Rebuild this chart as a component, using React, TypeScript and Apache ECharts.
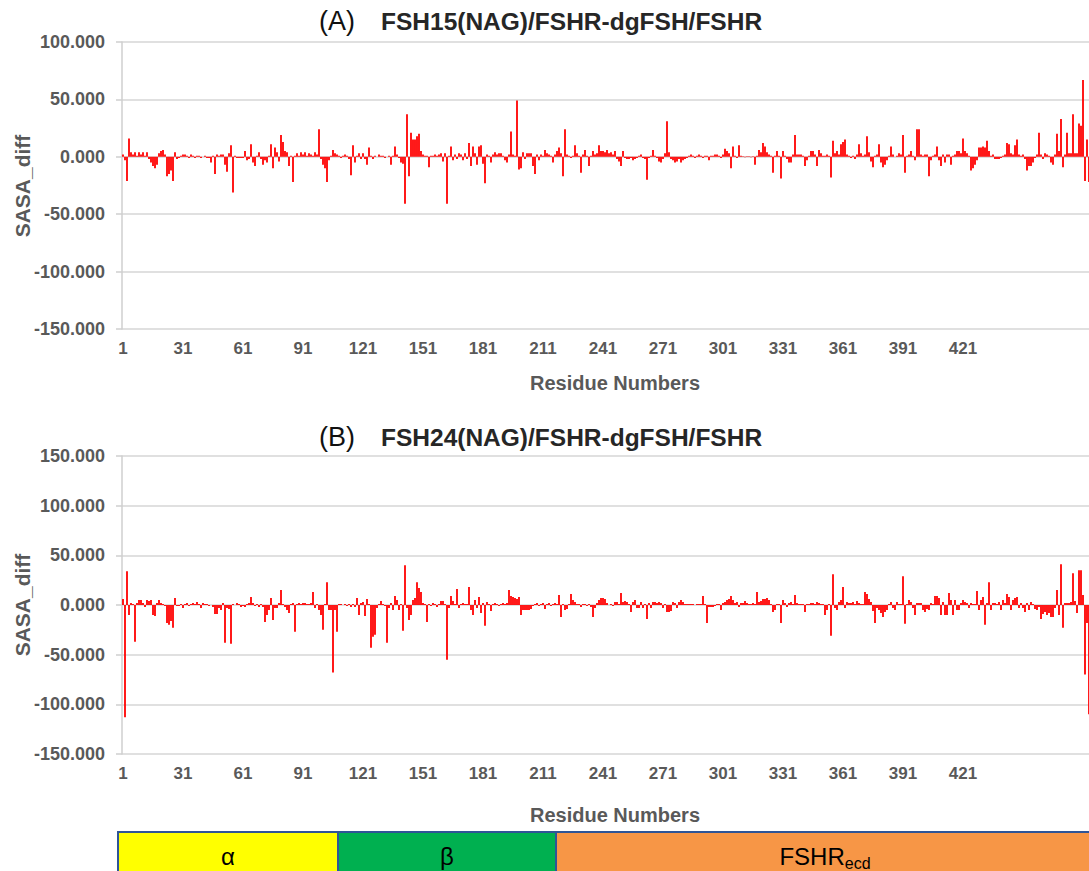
import React, { useEffect, useRef } from "react";
import * as echarts from "echarts";

// Residue numbers (categories)
const RESIDUES: string[] = Array.from({ length: 484 }, (_, i) => String(i + 1));
// Last residue index that carries a tick label (residue 421)
const LAST_LABEL_INDEX = 420;
const LABEL_STEP = 30;

// (A) FSH15(NAG)/FSHR-dgFSH/FSHR  SASA differences
const SASA_A: number[] = [
  2, -3, -21, 16, 4, 2, 4, 1, 4, 2, 4, 1, 4, -2, -5, -8, -10, -7, 3, 5,
  6, 2, -17, -15, -12, -21, 4, -2, -1, 1, 2, 2, 1, -1, 2, 1, -1, 1, 1, -1,
  0, 1, -1, -1, -5, 1, -15, 2, 1, 2, 2, -7, -13, 3, 10, -31, 1, -1, -1, -1,
  -1, 5, -3, -2, 11, -5, -8, 1, 4, -2, -7, -3, -5, 1, 11, -10, 8, 4, -4, 19,
  13, 5, 4, -8, 1, -22, 1, 3, 1, 4, 2, 4, 1, 3, 2, 1, 4, 2, 24, -2,
  -7, -10, -22, -3, 1, 6, 3, 2, 1, -1, 1, 2, 1, -2, -16, 10, -5, 1, 3, -2,
  3, -2, -7, 8, 1, -2, 1, 0, 2, 1, 1, -1, 0, 1, -7, 1, 9, 2, -1, -5,
  -6, -41, 37, -17, 21, 15, 15, 18, 20, 5, 2, 1, 1, -9, 1, 1, 2, 1, 2, 3,
  -4, 3, -41, 1, 9, -3, 2, -2, 3, 2, -3, 3, -2, 12, -8, 9, 3, -7, 9, 10,
  -6, -23, 2, 1, -5, 2, 4, 2, 3, 3, 1, -3, -5, 2, 22, 2, 1, 49, -11, -10,
  4, -2, 3, 3, 3, -8, -15, 2, -3, 2, 1, 6, 3, 2, 1, -5, 2, 5, 8, 3,
  -17, 24, 2, 1, -1, 1, 10, 3, 1, -14, 2, 6, 1, -8, 1, 5, 2, 3, 10, 5,
  5, 4, 6, 3, 4, 2, 5, -2, -4, -8, 5, -1, -2, -2, -1, -3, -2, -1, 1, 2,
  -1, -2, -20, -1, 1, 6, 1, -1, -4, -5, -2, 3, 31, 4, -2, -3, -5, -4, -2, -5,
  -3, -2, -1, 1, 2, 1, -1, 1, 2, 1, -1, 1, 1, -3, 1, 1, 2, 2, 1, -1,
  2, 7, 5, 3, -10, 9, 1, -1, 10, 1, 0.5, -0.5, 0.5, 0.5, -0.5, 0.5, -7, 1, 6, 4,
  12, 9, 4, 2, 1, -14, 1, 5, 1, -19, 5, 1, -2, -5, -5, 2, 19, 2, 2, 2,
  1, -8, -3, 1, 5, 5, 2, -8, 6, 3, 1, 1, 2, 1, -18, 14, 3, 5, 2, 11,
  13, 15, 2, 1, -1, 1, -2, 2, 11, 3, 1, 2, 18, 4, -4, -9, 1, 2, 11, -5,
  -9, -7, -3, 1, 9, 2, 0, 1, 3, 2, 19, -14, 1, 2, 5, 1, -3, 24, 24, 2,
  1, 2, 2, -17, -3, 1, 2, 9, -3, -8, 2, -5, 2, 2, -7, 1, 2, 5, 5, 3,
  16, 5, 3, 1, -12, -10, -7, -3, 8, 8, 9, 8, 14, 5, 1, 2, -2, -2, -2, -1,
  1, 2, 12, 11, 3, 2, 10, 15, 2, 1, 2, -2, -12, -8, -8, -5, -1, 2, 21, 2,
  -2, 3, 2, 1, -5, -7, 2, 20, 5, 33, -9, 2, 21, 3, 3, 37, 3, 3, 29, 27,
  67, -21, 15, -22,
];

// (B) FSH24(NAG)/FSHR-dgFSH/FSHR  SASA differences
const SASA_B: number[] = [
  6, -113, 34, -10, 2, 1, -37, 2, 5, 5, 2, -2, 5, 4, 5, -10, -11, 2, 5, 2,
  1, -1, -18, -20, -16, -23, 7, -1, -1, 1, -3, 1, 2, -1, 1, 2, 1, 3, 1, -3,
  2, 1, 1, -1, 0, -2, -9, -9, -3, -5, 2, -38, -3, -4, -39, 1, 0, 2, 1, -2,
  -1, -2, 1, 2, 8, 2, -1, 1, -2, 1, -2, -17, -10, -5, 7, -15, -3, -3, 2, 15,
  1, -2, -5, -8, 1, 2, -27, 1, 2, 1, 2, 2, 1, 1, 2, 13, -3, 1, -5, -10,
  -25, 1, 23, -5, -5, -68, -5, -27, 1, 1, 0, 1, -1, 1, -2, 1, -2, 7, -10, 2,
  3, -11, 6, 1, -43, -32, -30, -3, 1, 4, 1, -1, -38, -3, 2, -5, 9, 5, -5, 1,
  -26, 40, -3, -15, -10, 5, 7, 23, 17, 13, 2, 1, -17, 1, -1, 2, 1, -2, 1, 4,
  4, 1, -55, -3, 9, 4, 1, 16, -3, 1, 2, 1, 1, 18, -5, -10, 5, -3, 8, -8,
  2, -21, 3, 1, -6, 1, 2, 1, -1, 1, 2, 1, 2, 15, 9, 8, 7, 6, 8, -10,
  -5, -5, -5, -5, -4, -1, 1, 2, -1, 1, 2, -4, 1, 2, -1, 1, 2, 1, 10, -12,
  1, -5, -4, 1, 11, 5, 3, 1, 1, -2, 1, 1, -1, 1, -2, -12, -3, 2, 5, 7,
  7, 6, 2, 0, 1, -1, 3, 3, 1, 12, 3, 4, 3, 1, -7, 3, 5, -3, -3, 3,
  -3, 1, -14, 2, -3, 3, 3, 2, 3, 2, -3, 1, -7, -7, -6, 3, 2, -3, 3, 5,
  3, 1, 1, 1, 1, 1, 0, 1, 1, 1, 9, 1, -18, -2, -2, -2, -1, 1, 1, -5,
  2, 3, 5, 6, 9, 5, 2, 3, -2, 2, 2, 4, 2, 1, 1, 2, 1, 13, 3, 4,
  6, 6, 7, 5, 1, -7, -5, 1, 1, -18, 5, 2, -2, 2, 3, 1, 10, 2, 1, 1,
  1, -7, 1, 1, 2, 2, 1, 3, 2, 1, 1, -10, -5, 1, -31, 31, -3, -5, 3, 5,
  18, -3, 3, 2, 2, 3, 1, 4, 2, 1, 1, 13, 11, 6, 3, -6, -18, -3, -5, -8,
  -12, -7, -5, 1, 3, -3, -5, 3, 1, 1, 29, -19, 1, 5, 3, -3, -10, 2, 2, 2,
  -5, -7, -4, -5, 2, 1, 9, 9, 7, -10, 3, -10, -10, 12, 5, -10, 5, -5, -5, 2,
  5, 3, 2, -3, 2, 1, 1, 14, -5, 5, 8, -20, 2, 23, -5, 2, 2, 1, 3, -5,
  5, 2, 11, 8, -5, 5, 7, 8, -3, 2, -3, -7, 2, -5, 3, 1, -4, -5, -2, -14,
  -9, -7, -10, -8, -12, -12, -3, 15, -10, 41, -23, 2, 2, 2, 3, 32, 4, -8, 35, 35,
  10, -70, -18, -110,
];

// Domain bar below the charts (residue ranges)
const DOMAIN_LABELS: string[] = ["α", "β", "{m|FSHR}{s|ecd}"];
const DOMAIN_START: number[] = [-2, 108, 217];
const DOMAIN_END: number[] = [108, 217, 486];
const DOMAIN_COLORS: string[] = ["#ffff00", "#00b050", "#f79646"];

const TITLE_TAGS: string[] = ["(A)", "(B)"];
const TITLES: string[] = ["FSH15(NAG)/FSHR-dgFSH/FSHR", "FSH24(NAG)/FSHR-dgFSH/FSHR"];

const FONT = "'Liberation Sans', Arial, Helvetica, sans-serif";
const LABEL_COLOR = "#595959";

export default function App() {
  const ref = useRef<HTMLDivElement>(null);

  useEffect(() => {
    if (!ref.current) return;
    const chart = echarts.init(ref.current, undefined, { renderer: "svg" });

    const catAxis = (gi: number) => ({
      type: "category",
      gridIndex: gi,
      data: RESIDUES,
      boundaryGap: true,
      axisLine: { show: false },
      axisTick: { show: false },
      splitLine: { show: false },
      axisLabel: {
        interval: (index: number) => index % LABEL_STEP === 0 && index <= LAST_LABEL_INDEX,
        margin: 11,
        fontFamily: FONT,
        fontWeight: "bold",
        fontSize: 17,
        color: LABEL_COLOR,
      },
    });

    const valAxis = (gi: number, min: number, max: number) => ({
      type: "value",
      gridIndex: gi,
      min,
      max,
      interval: 50,
      axisLine: { show: true, lineStyle: { color: "#cfcfcf", width: 1.5 } },
      axisTick: { show: true, length: 6, lineStyle: { color: "#cfcfcf", width: 1.5 } },
      splitLine: { show: true, lineStyle: { color: "#d6d6d6", width: 1.5 } },
      axisLabel: {
        formatter: (v: number) => v.toFixed(3),
        fontFamily: FONT,
        fontWeight: "bold",
        fontSize: 18,
        color: LABEL_COLOR,
        margin: 17,
      },
    });

    const titleY = [21, 437];
    const nameY = [383, 815];
    const sasaY = [186, 605];

    const graphic: any[] = [];
    for (let i = 0; i < 2; i++) {
      graphic.push({
        type: "text",
        x: 319,
        y: titleY[i],
        style: { text: TITLE_TAGS[i], fontSize: 27, fontFamily: FONT, fill: "#111", verticalAlign: "middle" },
      });
      graphic.push({
        type: "text",
        x: 381,
        y: titleY[i],
        style: {
          text: TITLES[i],
          fontSize: 24.5,
          fontWeight: "bold",
          fontFamily: FONT,
          fill: "#262626",
          verticalAlign: "middle",
        },
      });
      graphic.push({
        type: "text",
        x: 22,
        y: sasaY[i],
        rotation: Math.PI / 2,
        style: {
          text: "SASA_diff",
          fontSize: 21,
          fontWeight: "bold",
          fontFamily: FONT,
          fill: LABEL_COLOR,
          align: "center",
          verticalAlign: "middle",
        },
      });
      graphic.push({
        type: "text",
        x: 615,
        y: nameY[i],
        style: {
          text: "Residue Numbers",
          fontSize: 20,
          fontWeight: "bold",
          fontFamily: FONT,
          fill: LABEL_COLOR,
          align: "center",
          verticalAlign: "middle",
        },
      });
    }

    const option: any = {
      animation: false,
      backgroundColor: "#ffffff",
      grid: [
        { left: 122, top: 42, width: RESIDUES.length * 2, height: 287, outerBoundsMode: "none" },
        { left: 122, top: 456, width: RESIDUES.length * 2, height: 298, outerBoundsMode: "none" },
        { left: 118, top: 832, width: 976, height: 48, outerBoundsMode: "none" },
      ],
      xAxis: [
        catAxis(0),
        catAxis(1),
        { type: "value", gridIndex: 2, min: -2, max: 486, show: false },
      ],
      yAxis: [
        valAxis(0, -150, 100),
        valAxis(1, -150, 150),
        { type: "value", gridIndex: 2, min: 0, max: 1, show: false },
      ],
      series: [
        {
          type: "bar",
          xAxisIndex: 0,
          yAxisIndex: 0,
          data: SASA_A,
          barCategoryGap: "10%",
          itemStyle: { color: "#ff0000" },
        },
        {
          type: "bar",
          xAxisIndex: 1,
          yAxisIndex: 1,
          data: SASA_B,
          barCategoryGap: "10%",
          itemStyle: { color: "#ff0000" },
        },
        {
          type: "custom",
          xAxisIndex: 2,
          yAxisIndex: 2,
          clip: false,
          data: DOMAIN_LABELS.map((_, i) => [DOMAIN_START[i], DOMAIN_END[i], i]),
          renderItem: (_params: any, api: any) => {
            const s = api.value(0);
            const e = api.value(1);
            const idx = api.value(2);
            const p0 = api.coord([s, 1]);
            const p1 = api.coord([e, 0]);
            return {
              type: "group",
              children: [
                {
                  type: "rect",
                  shape: { x: p0[0], y: p0[1], width: p1[0] - p0[0], height: p1[1] - p0[1] },
                  style: { fill: DOMAIN_COLORS[idx], stroke: "#2f5597", lineWidth: 2 },
                },
                {
                  type: "text",
                  style: {
                    text: DOMAIN_LABELS[idx],
                    x: (p0[0] + p1[0]) / 2,
                    y: (p0[1] + p1[1]) / 2,
                    align: "center",
                    verticalAlign: "middle",
                    fontSize: 24,
                    fontFamily: FONT,
                    fill: "#000",
                    rich: {
                      m: { fontSize: 24, lineHeight: 30, fontFamily: FONT, fill: "#000" },
                      s: { fontSize: 16, lineHeight: 14, verticalAlign: "bottom", fontFamily: FONT, fill: "#000" },
                    },
                  },
                },
              ],
            };
          },
        },
      ],
      graphic,
    };

    chart.setOption(option);
    return () => chart.dispose();
  }, []);

  return (
    <div
      ref={ref}
      style={{ position: "fixed", left: 0, top: 0, width: 1089, height: 871, background: "#fff" }}
    />
  );
}
